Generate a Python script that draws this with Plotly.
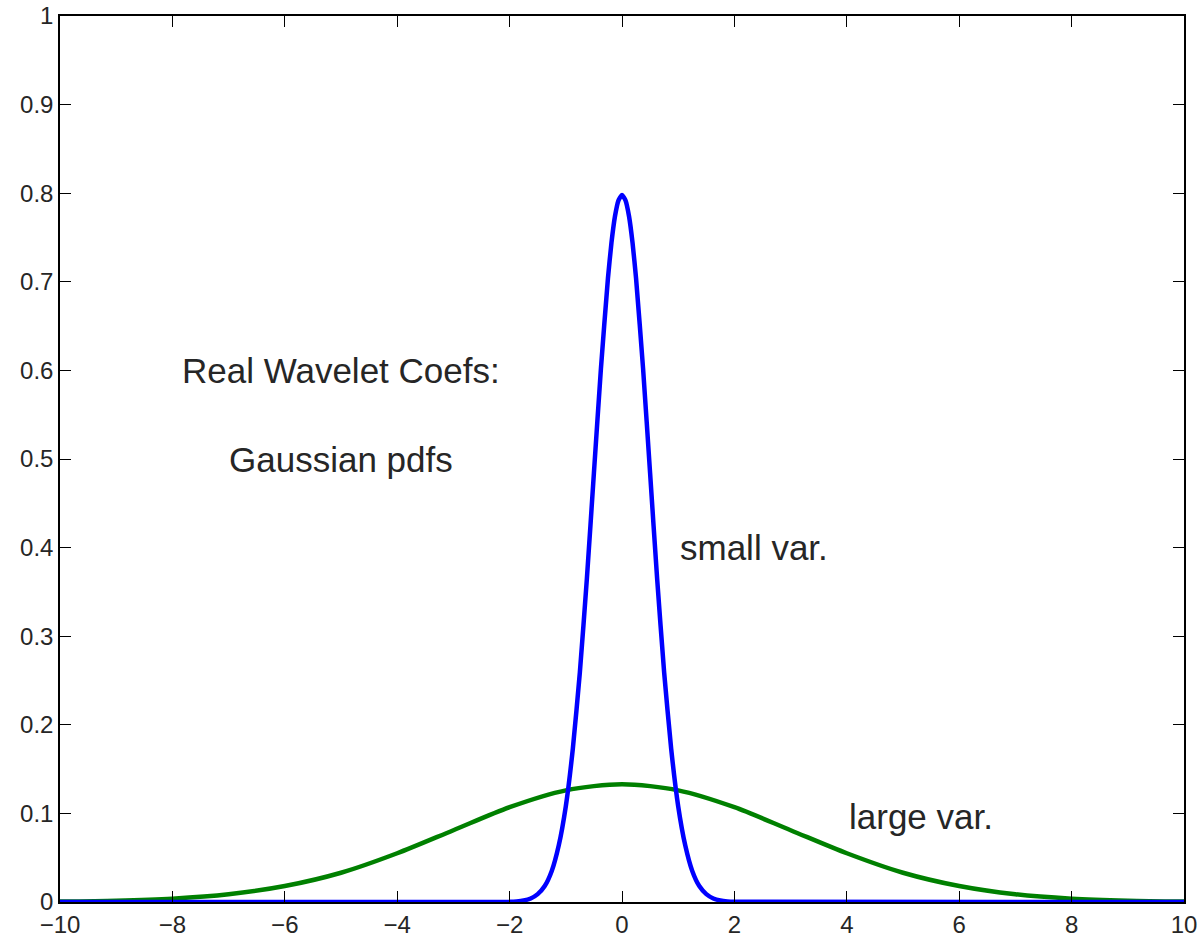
import plotly.graph_objects as go

# Narrow pdf (small variance) sampled densely around the peak
small_x = [-10, -2.0, -1.875, -1.75, -1.625, -1.5, -1.375, -1.25, -1.125, -1.0, -0.875, -0.75,
           -0.625, -0.5, -0.375, -0.25, -0.1875, -0.125, -0.0625, 0.0, 0.0625, 0.125, 0.1875,
           0.25, 0.375, 0.5, 0.625, 0.75, 0.875, 1.0, 1.125, 1.25, 1.375, 1.5, 1.625, 1.75,
           1.875, 2.0, 10]
small_y = [0.0, 0.0003, 0.0007, 0.0017, 0.004, 0.0089, 0.018, 0.035, 0.064, 0.108, 0.173, 0.259,
           0.365, 0.484, 0.602, 0.704, 0.744, 0.774, 0.792, 0.798, 0.792, 0.774, 0.744,
           0.704, 0.602, 0.484, 0.365, 0.259, 0.173, 0.108, 0.064, 0.035, 0.018, 0.0089, 0.004,
           0.0017, 0.0007, 0.0003, 0.0]

# Wide pdf (large variance)
large_x = [-10, -9, -8, -7, -6, -5, -4, -3, -2, -1, 0, 1, 2, 3, 4, 5, 6, 7, 8, 9, 10]
large_y = [0.0005, 0.0015, 0.0038, 0.0087, 0.018, 0.033, 0.055, 0.081, 0.107, 0.126, 0.133,
           0.126, 0.107, 0.081, 0.055, 0.033, 0.018, 0.0087, 0.0038, 0.0015, 0.0005]

x_ticks = [-10, -8, -6, -4, -2, 0, 2, 4, 6, 8, 10]
x_tick_text = ["\u221210", "\u22128", "\u22126", "\u22124", "\u22122", "0", "2", "4", "6", "8", "10"]
y_ticks = [0, 0.1, 0.2, 0.3, 0.4, 0.5, 0.6, 0.7, 0.8, 0.9, 1]
y_tick_text = ["0", "0.1", "0.2", "0.3", "0.4", "0.5", "0.6", "0.7", "0.8", "0.9", "1"]

labels = [
    ("Real Wavelet Coefs:", -5, 0.6, "center"),
    ("Gaussian pdfs", -5, 0.5, "center"),
    ("small var.", 1, 0.4, "left"),
    ("large var.", 4, 0.097, "left"),
]

font_family = "Liberation Sans, Arial, Helvetica, sans-serif"

fig = go.Figure()
fig.add_trace(go.Scatter(x=large_x, y=large_y, mode="lines",
                         line=dict(color="#008000", width=4.5, shape="spline", smoothing=0.8)))
fig.add_trace(go.Scatter(x=small_x, y=small_y, mode="lines",
                         line=dict(color="#0000ff", width=4.5, shape="spline", smoothing=0.5)))

for text, x, y, align in labels:
    fig.add_annotation(x=x, y=y, text=text, showarrow=False, xanchor=align, yanchor="middle",
                       font=dict(family=font_family, size=35, color="#262626"))

axis_common = dict(
    showgrid=False, zeroline=False, showline=True, linecolor="black", linewidth=1.5,
    mirror="ticks", ticks="inside", ticklen=11, tickwidth=1, tickcolor="black",
    tickfont=dict(family=font_family, size=24, color="#262626"),
    automargin=False,
)

fig.update_layout(
    width=1201, height=939,
    margin=dict(l=60, r=17, t=16, b=37),
    paper_bgcolor="white", plot_bgcolor="white",
    showlegend=False,
    xaxis=dict(range=[-10, 10], tickvals=x_ticks, ticktext=x_tick_text, **axis_common),
    yaxis=dict(range=[0, 1], tickvals=y_ticks, ticktext=y_tick_text, **axis_common),
)

fig.write_html("out.html")
